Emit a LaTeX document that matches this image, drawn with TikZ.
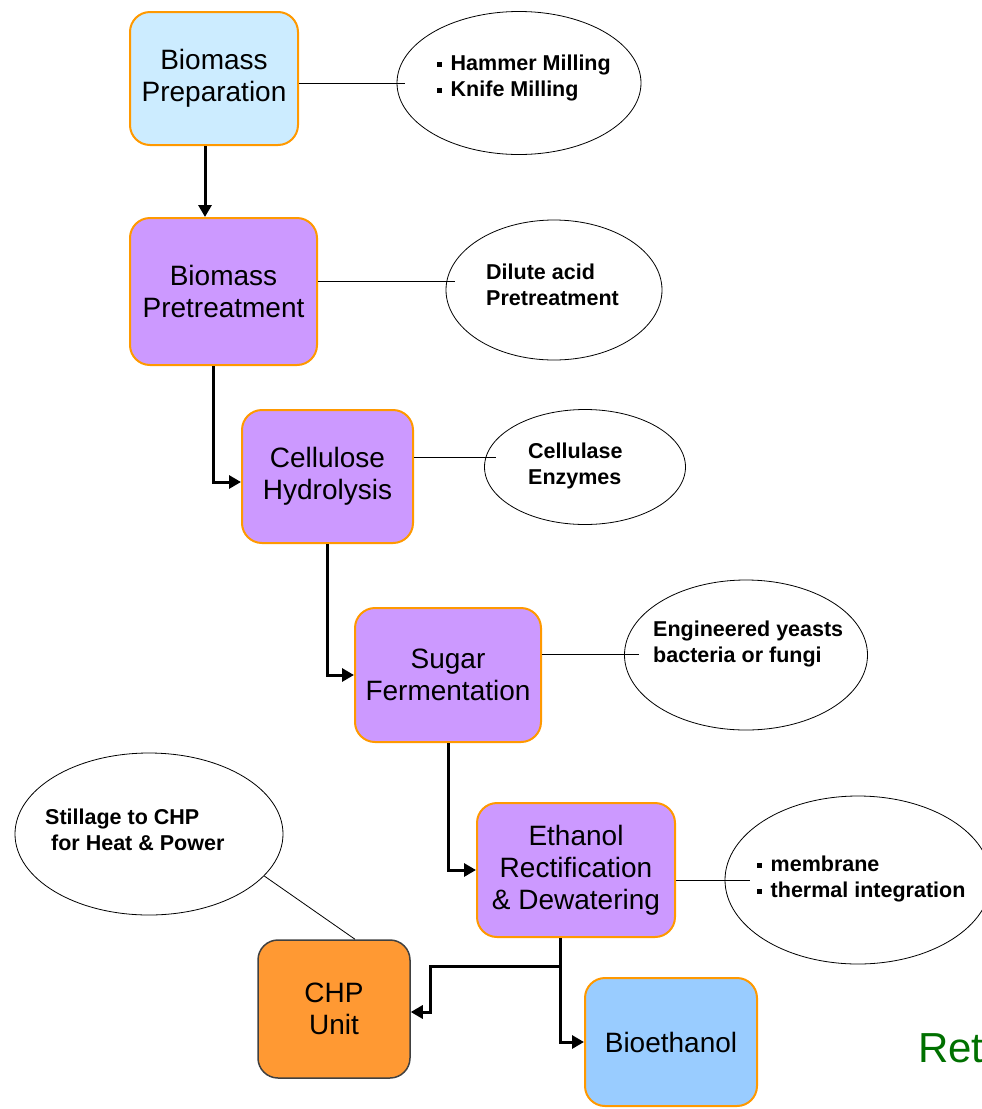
\documentclass[tikz,border=0pt]{standalone}
\usepackage{fontspec}
\setmainfont{Liberation Sans}
\usetikzlibrary{shapes.geometric,arrows.meta}
\definecolor{boxorange}{HTML}{FF9900}
\definecolor{prepblue}{HTML}{CCECFF}
\definecolor{procpurple}{HTML}{CC99FF}
\definecolor{chporange}{HTML}{FF9933}
\definecolor{prodblue}{HTML}{99CCFF}
\definecolor{refgreen}{HTML}{007000}
\newcommand\notebullet{\rule[4pt]{4.5pt}{4.5pt}\hspace{9pt}}
\begin{document}
\begin{tikzpicture}[x=1pt,y=-1pt,
  stage/.style={draw=boxorange,line width=2pt,rounded corners=20pt,inner sep=0pt,
    align=center,font=\fontsize{28}{32}\selectfont},
  bubble/.style={draw=black,line width=0.8pt,ellipse,inner sep=0pt},
  note/.style={anchor=west,align=left,inner sep=0pt,
    font=\bfseries\fontsize{21.5}{26}\selectfont},
  flow/.style={line width=3pt,-{Triangle[length=12pt,width=13pt]}},
  link/.style={line width=0.8pt}]
\useasboundingbox (0,0) rectangle (982,1109);
\clip (0,0) rectangle (982,1109);

% process stages
\node[stage,fill=prepblue,minimum width=168,minimum height=133] (b1) at (214,78.5) {Biomass\\Preparation};
\node[stage,fill=procpurple,minimum width=187,minimum height=147] (b2) at (223.5,291.5) {Biomass\\Pretreatment};
\node[stage,fill=procpurple,minimum width=171,minimum height=133] (b3) at (327.5,476.5) {Cellulose\\Hydrolysis};
\node[stage,fill=procpurple,minimum width=186,minimum height=134] (b4) at (448,675) {Sugar\\Fermentation};
\node[stage,fill=procpurple,minimum width=198,minimum height=134] (b5) at (576,870) {Ethanol\\Rectification\\\& Dewatering};
\node[stage,fill=chporange,draw=black!75,line width=1.5pt,minimum width=152,minimum height=138] (chp) at (334,1009) {CHP\\Unit};
\node[stage,fill=prodblue,minimum width=172,minimum height=128] (bio) at (671,1042) {Bioethanol};

% side notes
\node[bubble,minimum width=244,minimum height=143] (e1) at (519,83) {};
\node[bubble,minimum width=216,minimum height=140] (e2) at (554,290) {};
\node[bubble,minimum width=201,minimum height=115] (e3) at (585,467) {};
\node[bubble,minimum width=243,minimum height=150] (e4) at (746,655) {};
\node[bubble,minimum width=266,minimum height=168] (e5) at (858,880) {};
\node[bubble,minimum width=268,minimum height=162] (e6) at (149,834) {};

\node[note] (n1) at (437,78) {\notebullet Hammer Milling\\\notebullet Knife Milling};
\node[note] (n2) at (486,285) {Dilute acid\\Pretreatment};
\node[note] (n3) at (528,466) {Cellulase\\Enzymes};
\node[note] (n4) at (653,644) {Engineered yeasts\\bacteria or fungi};
\node[note] (n5) at (757,879) {\notebullet membrane\\\notebullet thermal integration};
\node[note] (n6) at (45,830) {Stillage to CHP\\\hspace{6pt}for Heat \& Power};

% main flow
\draw[flow] ([xshift=-9]b1.south) -- ([xshift=-9]b1.south |- b2.north);
\draw[flow] ([xshift=-10.5]b2.south) |- ([yshift=-5.5]b3.west);
\draw[flow] (b3.south) |- (b4.west);
\draw[flow] (b4.south) |- (b5.west);
\coordinate (split) at (560,966);
\draw[flow] ([xshift=-16]b5.south) |- (bio.west);
\draw[flow] (split) -| ([xshift=20,yshift=-3]chp.east) -- ([yshift=-3]chp.east);

% links to notes
\draw[link] (b1.east |- e1.center) -- ([xshift=8]e1.west);
\draw[link] ([yshift=10.5]b2.east) -- ([xshift=9,yshift=9]e2.west);
\draw[link] ([yshift=19.5]b3.east) -- ([xshift=12,yshift=10]e3.west);
\draw[link] ([yshift=21]b4.east) -- ([xshift=15,yshift=1]e4.west);
\draw[link] ([yshift=-10]b5.east) -- ([xshift=25]e5.west);
\draw[link] ([xshift=21]chp.north) -- (e6.-20);

\node[anchor=base west,text=refgreen,inner sep=0pt,font=\fontsize{42}{50}\selectfont] (ref) at (918,1062) {Ret};
\end{tikzpicture}
\end{document}
